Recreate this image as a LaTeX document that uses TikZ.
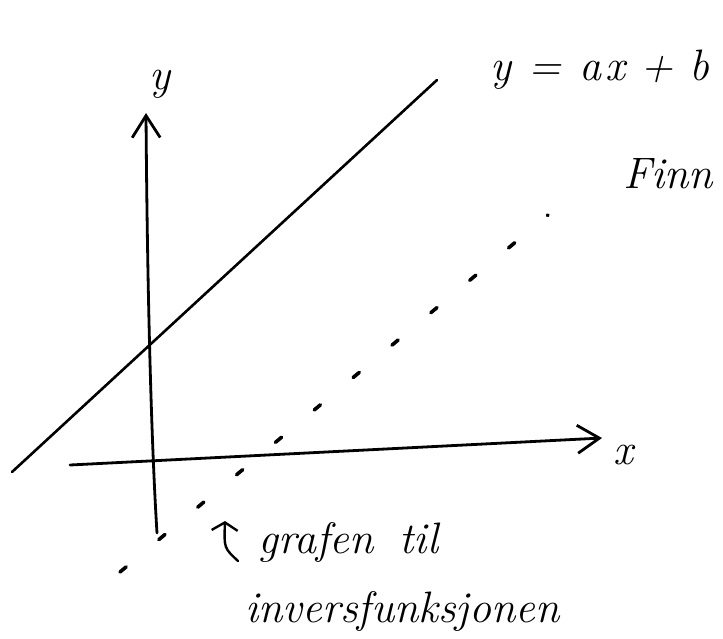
\documentclass[tikz,border=0pt]{standalone}
\usetikzlibrary{arrows.meta}

\begin{document}
\begin{tikzpicture}[
  x=1pt,y=-1pt,
  axis/.style={line width=2.8pt,line cap=round,
    -{Straight Barb[length=22pt,width=28pt]}},
  graph/.style={line width=2.6pt,line cap=round},
  inverse/.style={line width=3.6pt,line cap=round,dash pattern=on 8pt off 42.6pt},
  hand/.style={inner sep=0pt,font=\fontsize{44}{50}\selectfont\itshape},
  pointer/.style={line width=2.4pt,line cap=round,
    -{Straight Barb[length=8pt,width=26pt]}}
]
  \useasboundingbox (0,0) rectangle (723,638);

  % axes
  \coordinate (xstart) at (70,465);
  \coordinate (xend) at (602,438);
  \coordinate (ystart) at (157,533);
  \coordinate (yend) at (146,113);
  \draw[axis] (xstart) -- (xend);
  \draw[axis] (ystart) .. controls (150,420) and (147,250) .. (yend);
  \node[hand,anchor=center] (xlabel) at (623,455) {x};
  \node[hand,anchor=center] (ylabel) at (160,84) {y};

  % the line and its mirror image
  \coordinate (lstart) at (12,472);
  \coordinate (lend) at (437,80);
  \draw[graph] (lstart) -- (lend);
  \coordinate (istart) at (120,572);
  \coordinate (iend) at (548,215);
  \draw[inverse] (istart) -- (iend);

  \node[hand,anchor=base west] (eq) at (490,80)
    {y\hspace{0.4em}=\hspace{0.4em}a\hspace{0.1em}x\hspace{0.35em}+\hspace{0.35em}b};
  \begin{scope}
    \clip (0,0) rectangle (723,638);
    \node[hand,anchor=base west] (finn) at (623,188) {Finn};
  \end{scope}

  % note under the axes
  \node[hand,anchor=base west] (grafen) at (258,553) {grafen\hspace{0.6em}til};
  \node[hand,anchor=base west] (invers) at (245,622) {inversfunksjonen};
  \coordinate (tail) at (238,561);
  \draw[pointer] (tail) .. controls (224,548) .. (225,521);
\end{tikzpicture}
\end{document}
